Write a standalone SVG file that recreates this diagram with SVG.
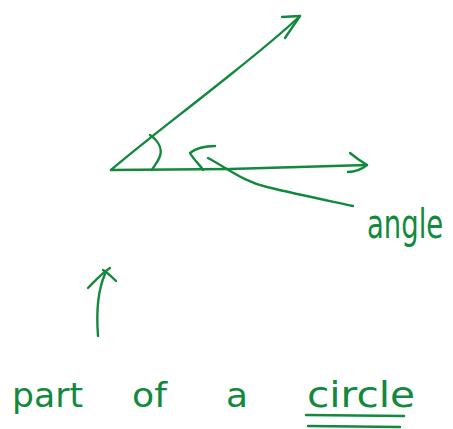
<svg xmlns="http://www.w3.org/2000/svg" width="453" height="429" viewBox="0 0 453 429">
<style>
.s{fill:none;stroke:#12893c;stroke-width:2.4;stroke-linecap:round;stroke-linejoin:round}
.t{fill:#12893c;font-family:"DejaVu Sans","Liberation Sans",sans-serif}
</style>
<rect width="453" height="429" fill="#fff"/>
<g id="angle-figure">
<path class="s" d="M111,170 C140,145 180,115 230,75 C255,55 280,35 300,16"/>
<path class="s" d="M282,17 L300,16 L285,38"/>
<path class="s" d="M111,170 L230,169 L367,165"/>
<path class="s" d="M350,153 C356,158 362,162 367,165 C362,169 355,172 348,172"/>
<path class="s" d="M150,135 C160,142 162,150 160,156 C158,162 154,166 152,170"/>
<path class="s" d="M215,146 C205,146 195,149 190,153 C194,160 200,165 203,170"/>
</g>
<g id="label-angle">
<text class="t" transform="translate(367,238) scale(1,1.5)" x="0" y="0" font-size="27.5">angle</text>
</g>
<g id="label-circle">
<text class="t" x="12" y="407" font-size="34" textLength="71" lengthAdjust="spacingAndGlyphs">part</text>
<text class="t" x="132" y="407" font-size="34" textLength="35" lengthAdjust="spacingAndGlyphs">of</text>
<text class="t" x="226" y="407" font-size="34" textLength="22" lengthAdjust="spacingAndGlyphs">a</text>
<text class="t" x="307" y="407" font-size="36" textLength="108" lengthAdjust="spacingAndGlyphs">circle</text>
<path class="s" d="M306,415 L404,416"/>
<path class="s" d="M308,426 L400,427"/>
</g>
<g id="connectors">
<path class="s" d="M208,158 C230,170 245,182 267,187 C300,195 330,201 353,206" stroke-width="1.8"/>
<path class="s" d="M98,336 C96,310 98,290 105,274"/>
<path class="s" d="M88,288 C96,280 102,273 110,268 M103,270 C108,273 112,277 116,281"/>
</g>
</svg>
